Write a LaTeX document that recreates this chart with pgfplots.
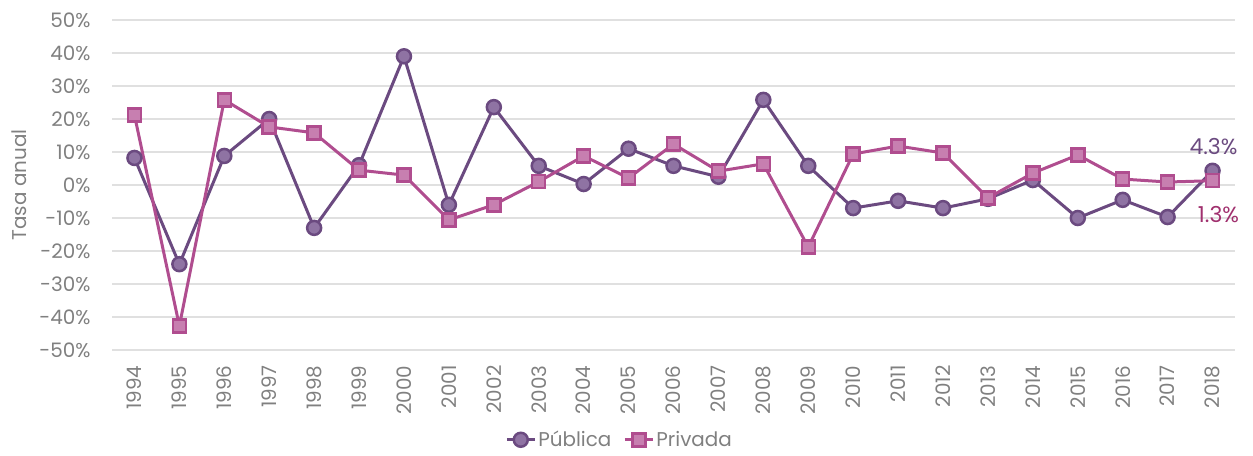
\documentclass[border=0pt]{standalone}
\usepackage{pgfplots}
\pgfplotsset{compat=1.18}
\usepackage{fontspec}
\setmainfont{Poppins}
\definecolor{publine}{HTML}{6B4A80}
\definecolor{pubfill}{HTML}{8F73A3}
\definecolor{privline}{HTML}{B04D8F}
\definecolor{privfill}{HTML}{C77FB0}
\definecolor{privlabel}{HTML}{A0306E}
\definecolor{textc}{HTML}{808080}
\definecolor{gridc}{HTML}{E0E0E0}
\begin{document}
\begin{tikzpicture}
\path[use as bounding box] (-112bp,-106bp) rectangle (1141bp,350bp);
\begin{axis}[
  at={(0,0)}, anchor=south west,
  scale only axis, width=1123bp, height=330bp,
  xmin=1993.5, xmax=2018.5, ymin=-50, ymax=50,
  axis line style={draw=none}, major tick length=0pt,
  ymajorgrids, grid style={color=gridc, line width=1.5bp},
  xtick={1994,1995,...,2018},
  ytick={-50,-40,...,50},
  yticklabels={-50\%,-40\%,-30\%,-20\%,-10\%,0\%,10\%,20\%,30\%,40\%,50\%},
  /pgf/number format/assume math mode=true,
  xticklabel style={rotate=90, anchor=east, /pgf/number format/1000 sep={}},
  xticklabel shift={12bp}, yticklabel shift={18bp},
  ticklabel style={font=\fontsize{20}{24}\selectfont, text=textc},
  legend style={at={(0.452,-0.272)}, anchor=center, draw=none, legend columns=2,
    font=\fontsize{20}{24}\selectfont, text=textc, inner sep=1bp,
    /tikz/every even column/.append style={column sep=10bp}},
  legend cell align=left,
  legend image code/.code={
    \draw[#1, mark=none] (0bp,0bp) -- (28bp,0bp);
    \draw[#1, only marks] plot coordinates {(14bp,0bp)};},
  clip=false,
]
\addplot[color=publine, line width=3bp, mark=*, mark size=7bp,
  mark options={fill=pubfill, draw=publine, line width=2.5bp}] coordinates {
(1994,8.2) (1995,-24) (1996,8.8) (1997,20) (1998,-13) (1999,6) (2000,39)
(2001,-6) (2002,23.6) (2003,5.8) (2004,0.3) (2005,11) (2006,5.8) (2007,2.5)
(2008,25.8) (2009,5.8) (2010,-7) (2011,-4.8) (2012,-7) (2013,-4.2) (2014,1.5)
(2015,-10) (2016,-4.5) (2017,-9.7) (2018,4.3)};
\addlegendentry{Pública}
\addplot[color=privline, line width=3bp, mark=square*, mark size=6.5bp,
  mark options={fill=privfill, draw=privline, line width=2.5bp}] coordinates {
(1994,21.2) (1995,-42.7) (1996,25.8) (1997,17.6) (1998,15.8) (1999,4.5) (2000,3)
(2001,-10.6) (2002,-6) (2003,1) (2004,8.8) (2005,2.1) (2006,12.4) (2007,4.2)
(2008,6.4) (2009,-18.8) (2010,9.4) (2011,11.8) (2012,9.7) (2013,-3.9) (2014,3.6)
(2015,9.1) (2016,1.8) (2017,0.9) (2018,1.3)};
\addlegendentry{Privada}
\node[text=publine, font=\fontsize{22}{24}\selectfont, anchor=center] at ([yshift=24bp, xshift=1bp]axis cs:2018,4.3) {4.3\%};
\node[text=privlabel, font=\fontsize{22}{24}\selectfont, anchor=center] at ([yshift=-34bp, xshift=6bp]axis cs:2018,1.3) {1.3\%};
\node[rotate=90, text=textc, font=\fontsize{20}{24}\selectfont] at ([xshift=-93bp]axis description cs:0,0.5) {Tasa anual};
\end{axis}
\end{tikzpicture}
\end{document}
